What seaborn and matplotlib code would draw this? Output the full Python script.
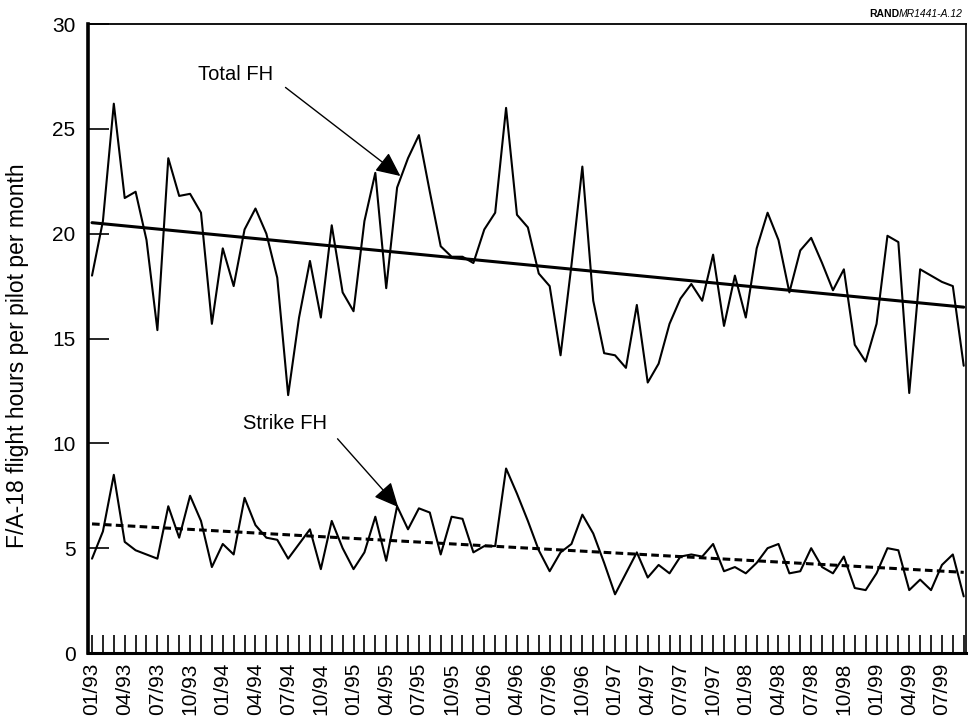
import numpy as np
import pandas as pd
import matplotlib
matplotlib.use("Agg")
import matplotlib.pyplot as plt
import seaborn as sns
from matplotlib.ticker import MultipleLocator, FixedLocator

# Quarter labels for the monthly axis (Jan 1993 - Jul 1999)
month_labels = [
    "01/93", "04/93", "07/93", "10/93",
    "01/94", "04/94", "07/94", "10/94",
    "01/95", "04/95", "07/95", "10/95",
    "01/96", "04/96", "07/96", "10/96",
    "01/97", "04/97", "07/97", "10/97",
    "01/98", "04/98", "07/98", "10/98",
    "01/99", "04/99", "07/99",
]

# Monthly F/A-18 flight hours per pilot, Jan 1993 - Sep 1999
total_fh = [
    18.0, 20.6, 26.2, 21.7, 22.0, 19.7, 15.4, 23.6, 21.8, 21.9,
    21.0, 15.7, 19.3, 17.5, 20.2, 21.2, 20.0, 17.9, 12.3, 16.0,
    18.7, 16.0, 20.4, 17.2, 16.3, 20.6, 22.9, 17.4, 22.2, 23.6,
    24.7, 22.0, 19.4, 18.9, 18.9, 18.6, 20.2, 21.0, 26.0, 20.9,
    20.3, 18.1, 17.5, 14.2, 18.5, 23.2, 16.8, 14.3, 14.2, 13.6,
    16.6, 12.9, 13.8, 15.7, 16.9, 17.6, 16.8, 19.0, 15.6, 18.0,
    16.0, 19.3, 21.0, 19.7, 17.2, 19.2, 19.8, 18.6, 17.3, 18.3,
    14.7, 13.9, 15.7, 19.9, 19.6, 12.4, 18.3, 18.0, 17.7, 17.5,
    13.7,
]
strike_fh = [
    4.5, 5.8, 8.5, 5.3, 4.9, 4.7, 4.5, 7.0, 5.5, 7.5,
    6.3, 4.1, 5.2, 4.7, 7.4, 6.1, 5.5, 5.4, 4.5, 5.2,
    5.9, 4.0, 6.3, 5.0, 4.0, 4.8, 6.5, 4.4, 7.0, 5.9,
    6.9, 6.7, 4.7, 6.5, 6.4, 4.8, 5.1, 5.1, 8.8, 7.6,
    6.3, 4.9, 3.9, 4.8, 5.2, 6.6, 5.7, 4.3, 2.8, 3.8,
    4.8, 3.6, 4.2, 3.8, 4.6, 4.7, 4.6, 5.2, 3.9, 4.1,
    3.8, 4.3, 5.0, 5.2, 3.8, 3.9, 5.0, 4.1, 3.8, 4.6,
    3.1, 3.0, 3.8, 5.0, 4.9, 3.0, 3.5, 3.0, 4.2, 4.7,
    2.7,
]

months = np.arange(len(total_fh))
df = pd.DataFrame({"month": months, "total": total_fh, "strike": strike_fh})

sns.set_style("ticks")
plt.rcParams["font.family"] = ["Liberation Sans", "DejaVu Sans"]
plt.rcParams["text.color"] = "black"
plt.rcParams["xtick.color"] = "black"
plt.rcParams["ytick.color"] = "black"

fig = plt.figure(figsize=(9.69, 7.21), dpi=100)
ax = fig.add_axes([0.0908, 0.0943, 0.906, 0.8724])

# Monthly series
sns.lineplot(data=df, x="month", y="total", color="black", lw=1.5, ax=ax)
sns.lineplot(data=df, x="month", y="strike", color="black", lw=1.5, ax=ax)

# Linear trends
sns.regplot(data=df, x="month", y="total", scatter=False, ci=None,
            color="black", line_kws=dict(lw=2.2), ax=ax)
sns.regplot(data=df, x="month", y="strike", scatter=False, ci=None,
            color="black", line_kws=dict(lw=2.2, ls=(0, (2.5, 1.4))), ax=ax)

ax.set_xlim(-0.37, 80.2)
ax.set_ylim(0, 30)
ax.set_xlabel("")
ax.set_ylabel("")

ax.xaxis.set_major_locator(FixedLocator(np.arange(0, 3 * len(month_labels), 3)))
ax.set_xticklabels(month_labels, rotation=90, fontsize=15)
ax.xaxis.set_minor_locator(MultipleLocator(1))
ax.yaxis.set_major_locator(MultipleLocator(5))
ax.tick_params(axis="y", labelsize=15, direction="in", length=15, width=1.2,
               pad=9, colors="black")
ax.tick_params(axis="x", which="both", direction="in", length=13, width=1.2,
               pad=7, colors="black")

for side, w in {"left": 2.6, "bottom": 2.2, "top": 1.3, "right": 1.2}.items():
    ax.spines[side].set_linewidth(w)
    ax.spines[side].set_color("black")

arrow = dict(arrowstyle="-|>,head_length=0.75,head_width=0.35", color="black",
             lw=1.0, mutation_scale=20, shrinkA=8, shrinkB=0, relpos=(1.0, 0.3))
ax.annotate("Total FH", xy=(28.3, 22.75), xytext=(13.2, 27.6),
            ha="center", va="center", fontsize=14.5, arrowprops=arrow)
ax.annotate("Strike FH", xy=(28.1, 6.96), xytext=(17.7, 10.97),
            ha="center", va="center", fontsize=14.5, arrowprops=arrow)

fig.text(18 / 969, 1 - 356 / 721, "F/A-18 flight hours per pilot per month",
         rotation=90, ha="center", va="center", fontsize=16.5)

# Figure identifier, top right
ident = fig.text(963 / 969, 1 - 14 / 721, "MR1441-A.12", ha="right", va="center",
                 fontsize=7.5, style="italic")
fig.canvas.draw()
bb = ident.get_window_extent(fig.canvas.get_renderer())
fig.text(bb.x0 / fig.bbox.width, 1 - 14 / 721, "RAND", ha="right", va="center",
         fontsize=7.5, fontweight="bold")

fig.savefig("out.png", dpi=100)
